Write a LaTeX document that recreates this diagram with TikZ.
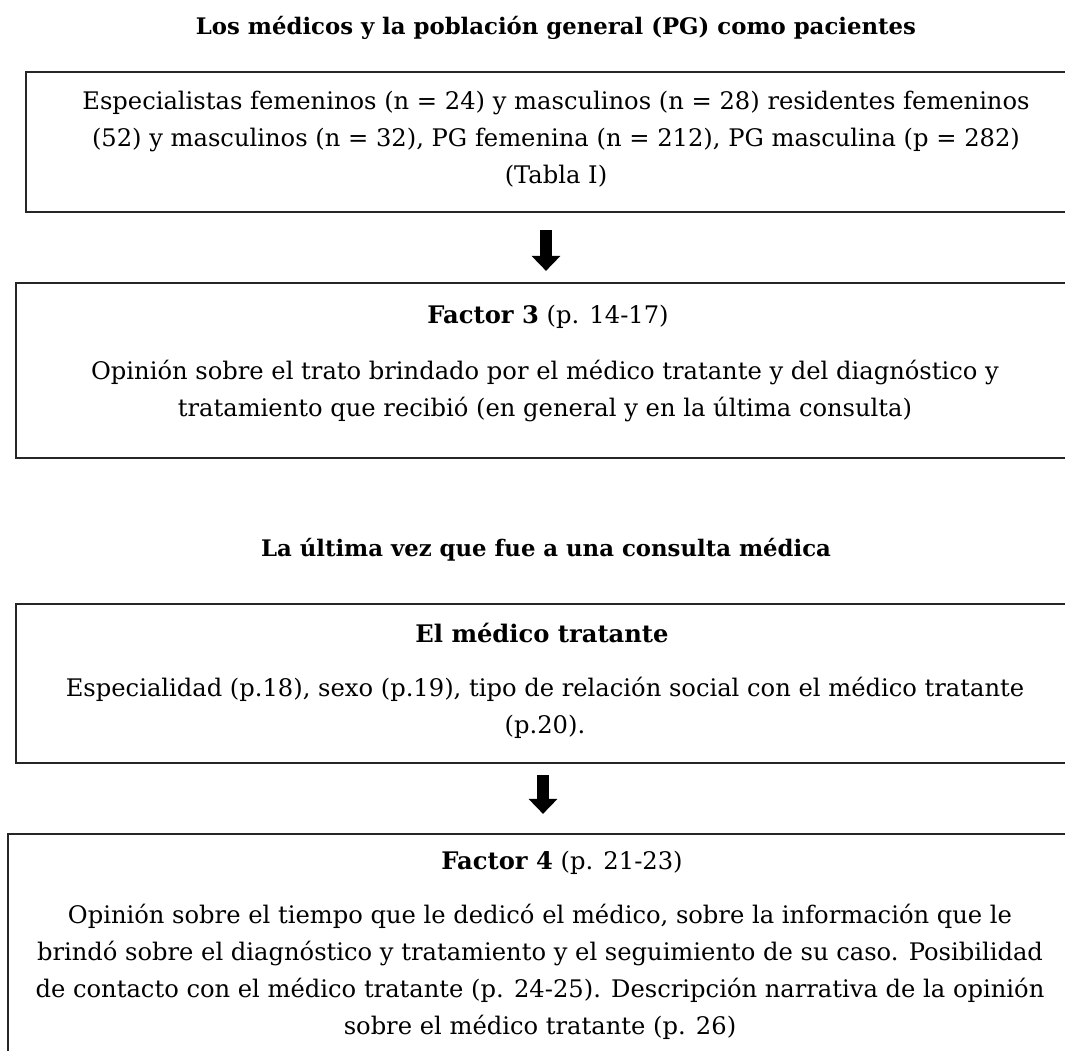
\documentclass[tikz,border=0pt]{standalone}
\usepackage{fontspec}
\setmainfont{DejaVu Serif}
\usetikzlibrary{arrows.meta}
\begin{document}
\begin{tikzpicture}[x=1pt,y=-1pt,
  box/.style={draw=black!85, line width=2.2pt, rectangle, inner sep=0pt},
  txt/.style={inner sep=0pt, align=center, font=\fontsize{24.2}{37}\selectfont},
  hd/.style={inner sep=0pt, font=\fontsize{22.8}{37}\selectfont\bfseries},
  flow/.style={line width=12pt, -{Triangle[width=28pt,length=15pt]}}
]
\useasboundingbox (0,0) rectangle (1065,1051);
\clip (0,0) rectangle (1065,1051);
% boxes
\node[box, minimum width=1040pt, minimum height=140pt] (b1) at (546,142) {};
\node[box, minimum width=1060pt, minimum height=175pt] (b2) at (546,370.5) {};
\node[box, minimum width=1060pt, minimum height=159pt] (b3) at (546,683.5) {};
\node[box, minimum width=1076pt, minimum height=280pt] (b4) at (546,974) {};
% texts
\node[hd] (title) at (556,28) {Los médicos y la población general (PG) como pacientes};
\node[txt] (t1) at (556,139) {Especialistas femeninos (n = 24) y masculinos (n = 28) residentes femeninos\\(52) y masculinos (n = 32), PG femenina (n = 212), PG masculina (p = 282)\\(Tabla I)};
\node[txt] (f3) at (548,317) {\textbf{Factor 3} (p. 14-17)};
\node[txt] (t2) at (545,391) {Opinión sobre el trato brindado por el médico tratante y del diagnóstico y\\tratamiento que recibió (en general y en la última consulta)};
\node[hd] (h2) at (546,550) {La última vez que fue a una consulta médica};
\node[txt] (h3) at (542,633) {\textbf{El médico tratante}};
\node[txt] (t3) at (545,708) {Especialidad (p.18), sexo (p.19), tipo de relación social con el médico tratante\\(p.20).};
\node[txt] (f4) at (562,863) {\textbf{Factor 4} (p. 21-23)};
\node[txt] (t4) at (540,972) {Opinión sobre el tiempo que le dedicó el médico, sobre la información que le\\brindó sobre el diagnóstico y tratamiento y el seguimiento de su caso. Posibilidad\\de contacto con el médico tratante (p. 24-25). Descripción narrativa de la opinión\\sobre el médico tratante (p. 26)};
% arrows
\draw[flow, shorten <=17pt, shorten >=11pt] (b1.south) -- (b2.north);
\draw[flow, shorten <=11pt, shorten >=19pt] ([xshift=-3pt]b3.south) -- ([xshift=-3pt]b4.north);
\end{tikzpicture}
\end{document}
